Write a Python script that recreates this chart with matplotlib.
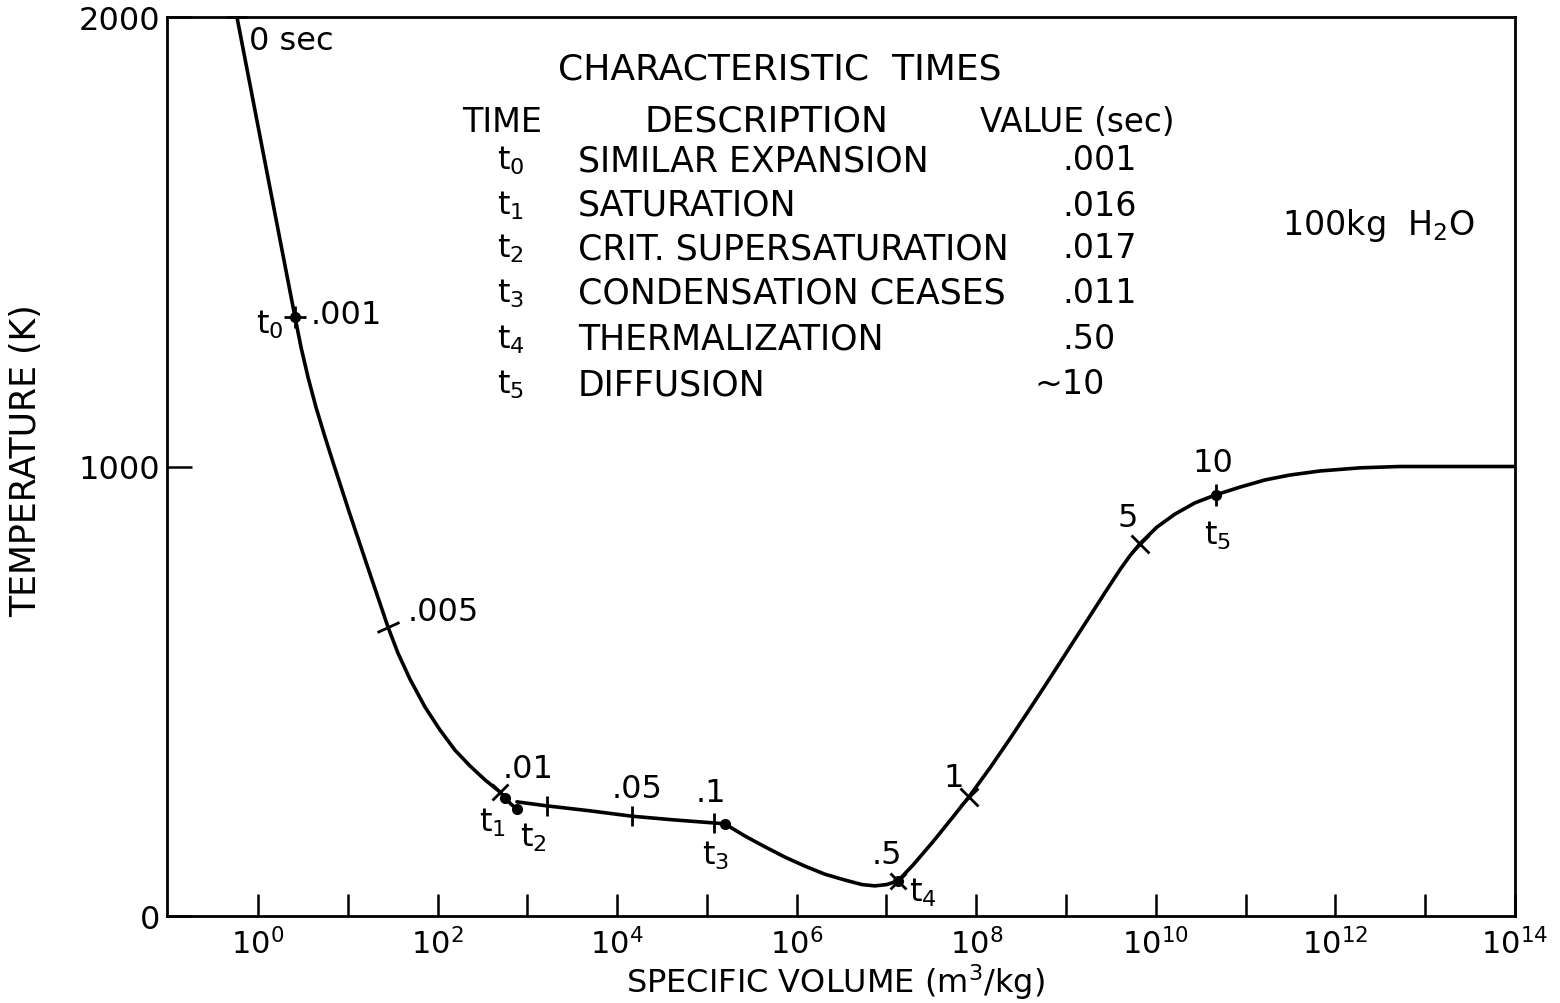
import numpy as np
import matplotlib.pyplot as plt
from matplotlib.markers import MarkerStyle
from matplotlib.transforms import Affine2D

# temperature path (log10 of specific volume, temperature K)
curve_logv = [-0.234, 0.089, 0.412, 0.479, 0.557, 0.646, 0.746, 0.835, 1.024, 1.214,
              1.448, 1.559, 1.693, 1.860, 2.027, 2.194, 2.361, 2.528, 2.695, 2.751,
              2.817, 2.884,
              2.884, 3.218, 3.697, 4.165, 4.621, 5.078, 5.200,
              5.423, 5.646, 5.869, 6.091, 6.314, 6.537, 6.726, 6.871, 7.004, 7.127,
              7.294, 7.517, 7.739, 7.918, 8.151, 8.374, 8.597, 8.820, 9.042, 9.265,
              9.432, 9.599, 9.710, 9.822, 10.011, 10.212, 10.434, 10.668, 10.935, 11.214,
              11.492, 11.826, 12.272, 12.717, 13.274, 14.0]
curve_T = [2000, 1666, 1333, 1266, 1199, 1132, 1066, 1010, 894, 781,
           643, 585, 527, 465, 414, 369, 334, 303, 276, 263,
           249, 238,
           254, 245, 234, 222, 214, 207, 205,
           178, 154, 131, 111, 93, 80, 70, 67, 70, 78,
           113, 165, 220, 265, 329, 394, 461, 529, 598, 667,
           719, 770, 801, 828, 865, 894, 919, 937, 954, 970,
           981, 990, 997, 1000, 1000, 1000]

# elapsed-time marks along the path
time_logv = [-0.234, 0.412, 1.448, 2.695, 3.218, 4.165, 5.078, 7.127, 7.918, 9.822, 10.668]
time_T = [2000, 1333, 643, 276, 245, 222, 207, 78, 265, 828, 937]
time_lbl = ["0 sec", ".001", ".005", ".01", "", ".05", ".1", ".5", "1", "5", "10"]

# characteristic times
char_sym = ["t$_0$", "t$_1$", "t$_2$", "t$_3$", "t$_4$", "t$_5$"]
char_logv = [0.412, 2.751, 2.884, 5.200, 7.127, 10.668]
char_T = [1333, 263, 238, 205, 78, 937]
char_desc = ["SIMILAR EXPANSION", "SATURATION", "CRIT. SUPERSATURATION",
             "CONDENSATION CEASES", "THERMALIZATION", "DIFFUSION"]
char_val = [".001", ".016", ".017", ".011", ".50", "~10"]

x_exps = list(range(0, 15))

plt.rcParams["font.family"] = ["DejaVu Sans"]
W, H = 1560, 1004


def fxy(px, py):
    return px / W, 1 - py / H


fig = plt.figure(figsize=(15.6, 10.04), dpi=100)
ax = fig.add_axes([167 / W, (H - 917) / H, (1515 - 167) / W, (917 - 18) / H])

v = 10.0 ** np.array(curve_logv)
ax.plot(v[:22], curve_T[:22], color="black", lw=2.6, solid_capstyle="round")
ax.plot(v[22:], curve_T[22:], color="black", lw=2.6, solid_capstyle="round")

tv = 10.0 ** np.array(time_logv)
cv = 10.0 ** np.array(char_logv)

rot_tick = MarkerStyle("_", transform=Affine2D().rotate_deg(24))
mark_styles = ["_", "+", rot_tick, "x", "|", "|", "|", "x", "x", "x", "|"]
mark_sizes = [14, 16, 18, 12, 14, 14, 14, 12, 13, 13, 16]
lbl_off = [(9, -17), (11, 2), (14, 11), (20, 17), (0, 0), (4, 20), (-2, 22),
           (-8, 19), (-11, 14), (-9, 19), (-2, 23)]
lbl_ha = ["left", "left", "left", "center", "center", "center", "center",
          "center", "center", "center", "center"]
for i in range(len(time_lbl)):
    ax.plot(tv[i], time_T[i], marker=mark_styles[i], ms=mark_sizes[i], mew=2,
            color="black", clip_on=False)
    if time_lbl[i]:
        ax.annotate(time_lbl[i], (tv[i], time_T[i]), xytext=lbl_off[i],
                    textcoords="offset points", ha=lbl_ha[i], va="center", fontsize=23)

ax.plot(cv, char_T, "o", ms=7, color="black", ls="none")
char_off = [(-18, -5), (-9, -17), (12, -20), (-7, -22), (18, -8), (1, -29)]
for i in range(len(char_sym)):
    ax.annotate(char_sym[i], (cv[i], char_T[i]), xytext=char_off[i],
                textcoords="offset points", ha="center", va="center", fontsize=23)

ax.set_xscale("log")
ax.set_xlim(10 ** -1.013, 1e14)
ax.set_ylim(0, 2000)
ax.set_xticks(10.0 ** np.array(x_exps))
ax.set_xticklabels([r"$\mathregular{10^{%d}}$" % e if e % 2 == 0 else "" for e in x_exps])
ax.xaxis.set_minor_locator(plt.NullLocator())
ax.set_yticks([0, 1000, 2000])
ax.set_yticklabels(["0", "1000", "2000"])
ax.tick_params(axis="x", direction="in", length=16, width=1.8, pad=8, labelsize=22)
ax.tick_params(axis="y", direction="in", length=18, width=1.8, pad=5, labelsize=23)
for s in ax.spines.values():
    s.set_linewidth(2)

ax.set_xlabel(r"SPECIFIC VOLUME (m$^3$/kg)", fontsize=23)
ax.xaxis.label.set_verticalalignment("baseline")
ax.xaxis.set_label_coords(0.4955, -0.0845)
ax.set_ylabel("TEMPERATURE (K)", fontsize=25)
ax.yaxis.set_label_coords(-0.092, 0.508)

# characteristic times table
fig.text(*fxy(558, 70), "CHARACTERISTIC  TIMES", fontsize=26, va="center")
fig.text(*fxy(462, 122), "TIME", fontsize=24, va="center")
fig.text(*fxy(645, 122), "DESCRIPTION", fontsize=26, va="center")
fig.text(*fxy(980, 122), "VALUE (sec)", fontsize=23.5, va="center")
row_y = [161, 206, 249, 294, 340, 385]
for i in range(len(char_sym)):
    fig.text(*fxy(497, row_y[i]), char_sym[i], fontsize=23, va="center")
    fig.text(*fxy(578, row_y[i]), char_desc[i], fontsize=25, va="center")
    vx = 1035 if char_val[i].startswith("~") else 1062
    fig.text(*fxy(vx, row_y[i]), char_val[i], fontsize=24, va="center")

fig.text(*fxy(1282, 226), "100kg  H$_2$O", fontsize=24, va="center")

fig.savefig("out.png", dpi=100)
